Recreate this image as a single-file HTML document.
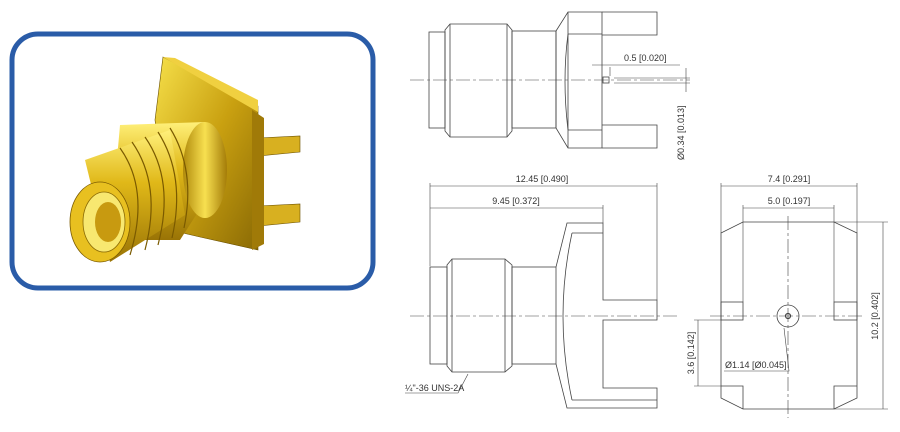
<!DOCTYPE html>
<html><head><meta charset="utf-8"><style>
html,body{margin:0;padding:0;background:#fff;width:900px;height:432px;overflow:hidden}
svg{display:block}
text{font-family:"Liberation Sans",sans-serif;font-size:9px;fill:#333}
</style></head><body>
<svg width="900" height="432" viewBox="0 0 900 432" xmlns="http://www.w3.org/2000/svg">
<defs>
<linearGradient id="g1" x1="0" y1="0" x2="1" y2="1"><stop offset="0" stop-color="#f6e04a"/><stop offset="0.5" stop-color="#c9a010"/><stop offset="1" stop-color="#8a6a05"/></linearGradient>
<linearGradient id="g2" x1="0" y1="0" x2="0" y2="1"><stop offset="0" stop-color="#fff07a"/><stop offset="0.4" stop-color="#e0b818"/><stop offset="1" stop-color="#9a7406"/></linearGradient>
<linearGradient id="g3" x1="0" y1="0" x2="1" y2="0"><stop offset="0" stop-color="#b08a0c"/><stop offset="0.5" stop-color="#f8e050"/><stop offset="1" stop-color="#a47c08"/></linearGradient>
</defs>
<rect x="12" y="34" width="361" height="254" rx="26" fill="#fff" stroke="#2a5ca8" stroke-width="5"/>
<polygon points="258,138 300,136 300,152 258,156" fill="#d8b020" stroke="#6a5000" stroke-width="0.6"/>
<polygon points="258,206 300,204 300,222 258,226" fill="#d8b020" stroke="#6a5000" stroke-width="0.6"/>
<polygon points="163,57 258,106 258,250 200,237 170,230 155,120" fill="url(#g1)" stroke="#6a5000" stroke-width="0.6"/>
<polygon points="163,57 175,58 258,100 258,112" fill="#f0d040"/>
<polygon points="252,110 264,118 264,244 252,250" fill="#a07a08"/>
<polygon points="120,125 205,122 225,170 180,240 110,240" fill="url(#g2)"/>
<ellipse cx="205" cy="170" rx="22" ry="48" fill="url(#g3)"/>
<polygon points="85,160 170,130 185,215 110,262" fill="url(#g2)"/>
<g fill="none" stroke="#7a5a00" stroke-width="1.2">
<path d="M120,148 Q150,190 130,255"/><path d="M132,142 Q162,185 145,250"/><path d="M145,137 Q175,180 158,245"/><path d="M158,132 Q186,176 172,238"/><path d="M170,128 Q196,170 184,228"/>
</g>
<ellipse cx="100" cy="222" rx="30" ry="40" fill="#e8c020" stroke="#7a5a00" stroke-width="0.8"/>
<ellipse cx="104" cy="222" rx="21" ry="30" fill="#f8e870" stroke="#8a6a05" stroke-width="0.8"/>
<ellipse cx="108" cy="222" rx="13" ry="20" fill="#c89a10"/>

<g fill="none" stroke="#444" stroke-width="0.8">
<rect x="429" y="32" width="16" height="96"/>
<polygon points="445,30 450,24 507,24 512,30 512,131 507,137 450,137 445,131"/>
<line x1="450" y1="24" x2="450" y2="137"/><line x1="507" y1="24" x2="507" y2="137"/>
<rect x="512" y="31" width="44" height="97"/>
<polygon points="556,31 568,12 602,12 602,148 568,148 556,128"/>
<line x1="568" y1="12" x2="568" y2="148"/>
<line x1="568" y1="34" x2="602" y2="34"/><line x1="568" y1="130" x2="602" y2="130"/>
<path d="M568,34 Q562,80 568,130"/>
<polyline points="602,12 657,12 657,35 602,35"/>
<polyline points="602,125 657,125 657,148 602,148"/>
<rect x="603" y="77" width="6" height="6"/>
<line x1="592" y1="65" x2="680" y2="65" stroke-width="0.6"/>
<line x1="610" y1="67" x2="610" y2="76" stroke-width="0.6"/>
<line x1="614" y1="78" x2="690" y2="78" stroke-width="0.6"/>
<line x1="614" y1="83" x2="690" y2="83" stroke-width="0.6"/>
<line x1="686" y1="68" x2="686" y2="92" stroke-width="0.6"/>
<line x1="410" y1="80" x2="690" y2="80" stroke-dasharray="14,3,3,3" stroke-width="0.6"/>
<line x1="430" y1="186" x2="657" y2="186" stroke-width="0.6"/>
<line x1="430" y1="208" x2="603" y2="208" stroke-width="0.6"/>
<line x1="430" y1="183" x2="430" y2="266" stroke-width="0.6"/>
<line x1="603" y1="205" x2="603" y2="223" stroke-width="0.6"/>
<line x1="657" y1="183" x2="657" y2="300" stroke-width="0.6"/>
<rect x="430" y="267" width="17" height="97"/>
<polygon points="447,265 452,259 505,259 512,265 512,366 505,372 452,372 447,366"/>
<line x1="452" y1="259" x2="452" y2="372"/><line x1="505" y1="259" x2="505" y2="372"/>
<rect x="512" y="267" width="44" height="97"/>
<polyline points="556,267 567,223 603,223 603,300 657,300 657,320 603,320 603,388 657,388 657,408 567,408 556,364"/>
<line x1="572" y1="233" x2="603" y2="233"/><line x1="572" y1="400" x2="657" y2="400"/>
<path d="M572,233 Q554,316 572,400"/>
<line x1="410" y1="316" x2="680" y2="316" stroke-dasharray="14,3,3,3" stroke-width="0.6"/>
<polyline points="405,393 458,393 468,374" stroke-width="0.6"/>
<line x1="721" y1="186" x2="857" y2="186" stroke-width="0.6"/>
<line x1="743" y1="208" x2="834" y2="208" stroke-width="0.6"/>
<line x1="721" y1="183" x2="721" y2="233" stroke-width="0.6"/>
<line x1="857" y1="183" x2="857" y2="233" stroke-width="0.6"/>
<line x1="743" y1="205" x2="743" y2="302" stroke-width="0.6"/>
<line x1="834" y1="205" x2="834" y2="302" stroke-width="0.6"/>
<polygon points="743,222 834,222 857,233 857,398 834,409 743,409 721,398 721,233"/>
<rect x="721" y="302" width="22" height="18"/><rect x="834" y="302" width="23" height="18"/>
<polyline points="721,386 743,386 743,409"/><polyline points="857,386 834,386 834,409"/>
<line x1="788" y1="216" x2="788" y2="418" stroke-dasharray="14,3,3,3" stroke-width="0.6"/>
<line x1="710" y1="316" x2="865" y2="316" stroke-dasharray="14,3,3,3" stroke-width="0.6"/>
<circle cx="788" cy="316" r="11"/><circle cx="788" cy="316" r="2.5" stroke-width="1.2"/>
<line x1="834" y1="222" x2="888" y2="222" stroke-width="0.6"/>
<line x1="834" y1="409" x2="888" y2="409" stroke-width="0.6"/>
<line x1="883" y1="222" x2="883" y2="409" stroke-width="0.6"/>
<line x1="694" y1="320" x2="721" y2="320" stroke-width="0.6"/>
<line x1="694" y1="386" x2="721" y2="386" stroke-width="0.6"/>
<line x1="698" y1="320" x2="698" y2="386" stroke-width="0.6"/>
<polyline points="724,371 789,371 784,328" stroke-width="0.6"/>
</g>
<text x="624" y="61">0.5 [0.020]</text>
<text transform="translate(684,160) rotate(-90)">Ø0.34 [0.013]</text>
<text x="542" y="182" text-anchor="middle">12.45 [0.490]</text>
<text x="516" y="204" text-anchor="middle">9.45 [0.372]</text>
<text x="405" y="391" font-size="7">¼"-36 UNS-2A</text>
<text x="789" y="182" text-anchor="middle">7.4 [0.291]</text>
<text x="789" y="204" text-anchor="middle">5.0 [0.197]</text>
<text transform="translate(878,316) rotate(-90)" text-anchor="middle">10.2 [0.402]</text>
<text transform="translate(694,353) rotate(-90)" text-anchor="middle">3.6 [0.142]</text>
<text x="725" y="368" font-size="8">Ø1.14 [Ø0.045]</text>
</svg>
</body></html>
